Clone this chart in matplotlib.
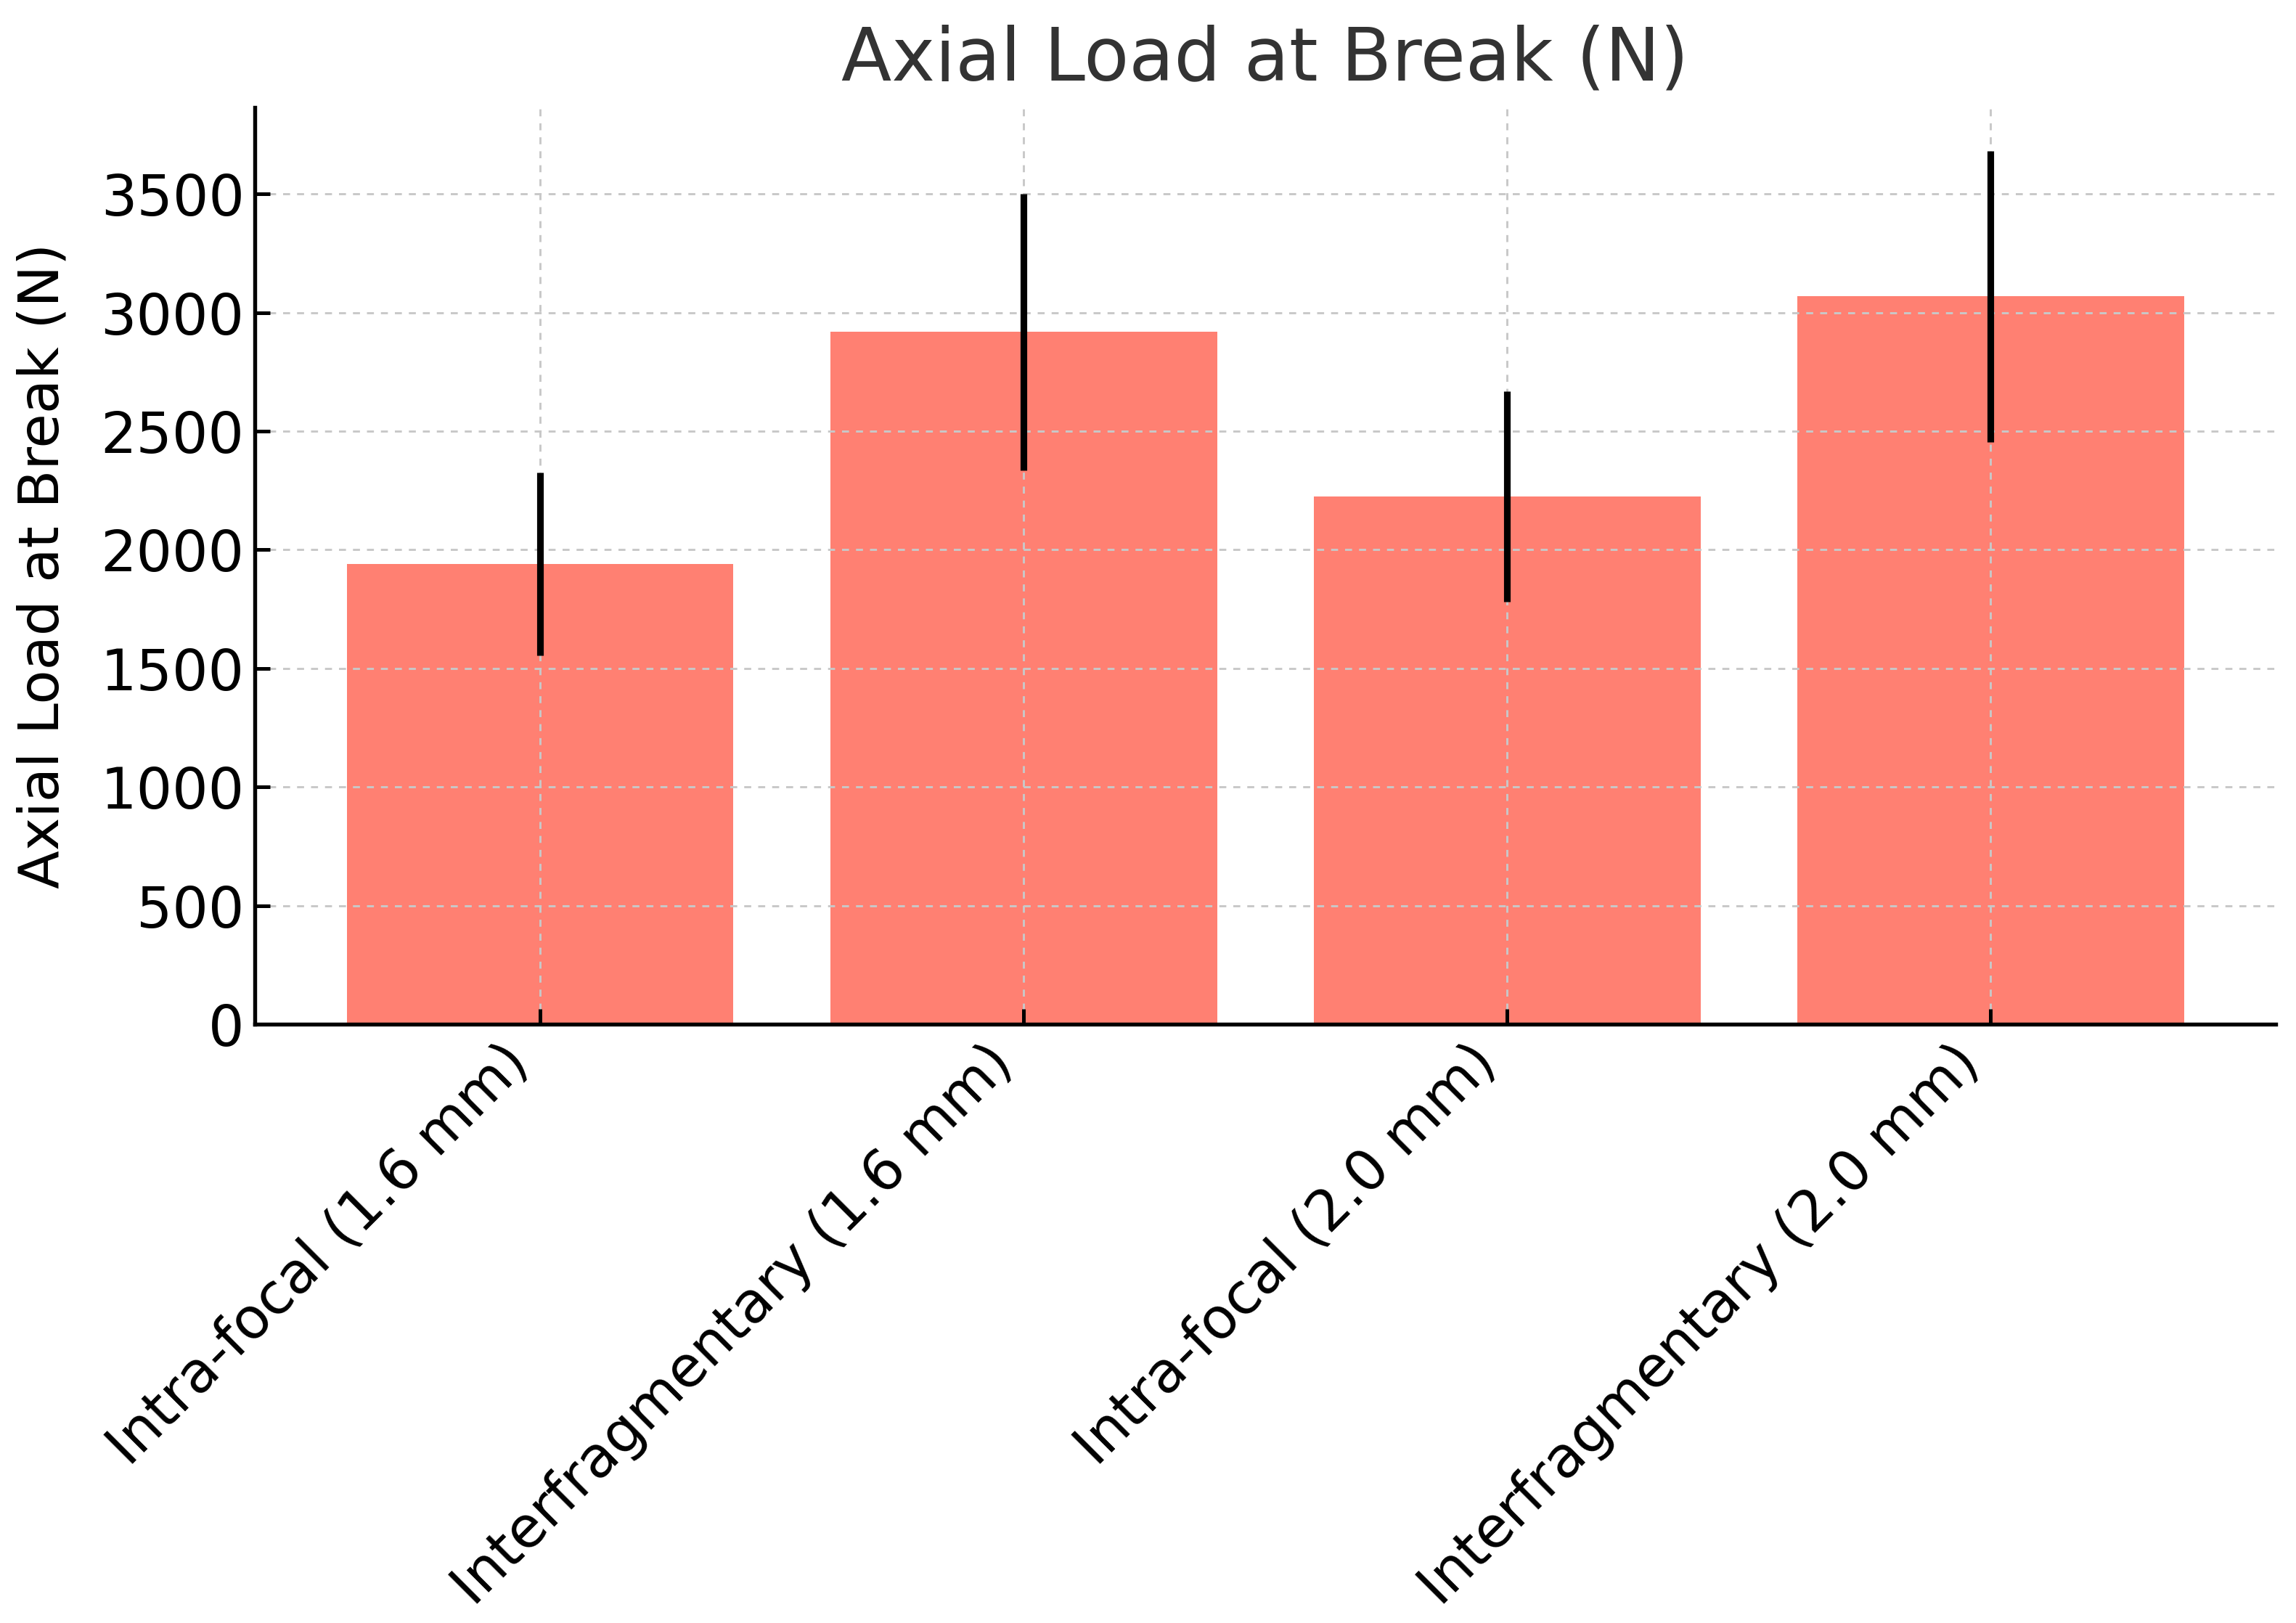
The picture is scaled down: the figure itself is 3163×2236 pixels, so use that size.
import matplotlib
matplotlib.use("Agg")
import matplotlib.pyplot as plt
from matplotlib.ticker import MultipleLocator

categories = ["Intra-focal (1.6 mm)", "Interfragmentary (1.6 mm)",
              "Intra-focal (2.0 mm)", "Interfragmentary (2.0 mm)"]
mean_load = [1940, 2918, 2225, 3068]
sd_load = [385, 582, 443, 613]

plt.rcParams['font.family'] = ['DejaVu Sans']

fig = plt.figure(figsize=(3163 / 300, 2236 / 300), dpi=300)
ax = fig.add_axes([0.111, 0.369, 0.9912 - 0.111, 0.9338 - 0.369])

x = list(range(len(categories)))
ax.bar(x, mean_load, width=0.8, color='#FF8072', zorder=1,
       yerr=sd_load, error_kw=dict(ecolor='black', elinewidth=2.2, capsize=0, zorder=4))

ax.set_axisbelow(False)
ax.grid(True, linestyle=(0, (3.3, 3.3)), linewidth=0.7, color='#c8c8c8', zorder=2)

ax.yaxis.set_major_locator(MultipleLocator(500))
ax.set_xticks(x)
ax.set_xticklabels(categories, rotation=45, ha='right', fontsize=18.7)
ax.tick_params(axis='y', labelsize=18.7)
ax.tick_params(direction='in', length=5, width=1.2, colors='black')

ax.set_ylabel("Axial Load at Break (N)", fontsize=18.5, labelpad=10)
ax.set_title("Axial Load at Break (N)", fontsize=24.3, color='#333333', pad=9)

ax.spines['top'].set_visible(False)
ax.spines['right'].set_visible(False)
for s in ('left', 'bottom'):
    ax.spines[s].set_linewidth(1.3)
    ax.spines[s].set_zorder(5)

fig.savefig("out.png", dpi=300)
